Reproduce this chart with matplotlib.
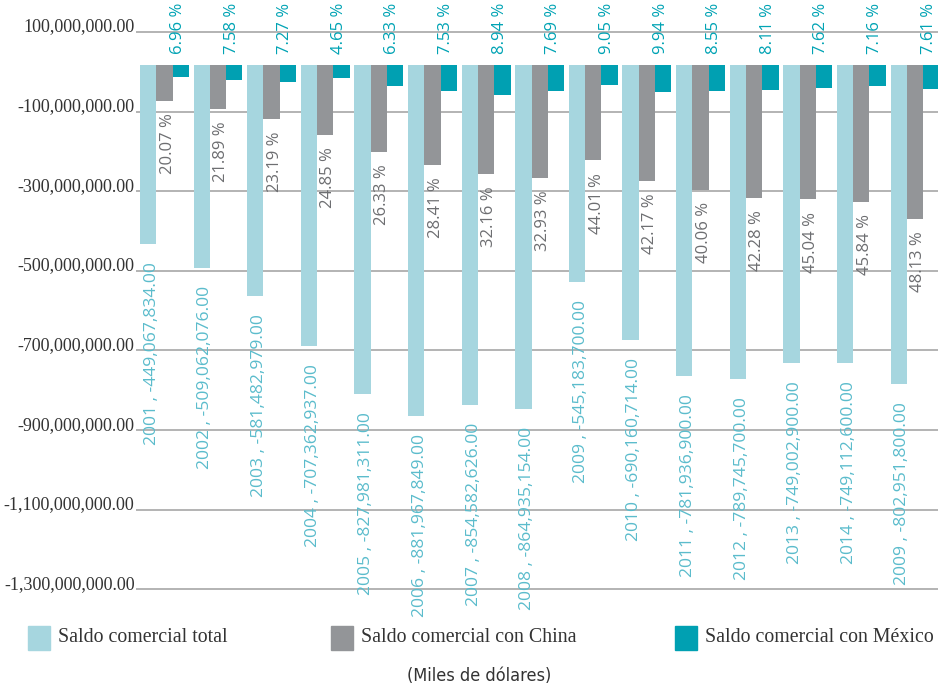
import matplotlib
matplotlib.use("Agg")
import matplotlib.pyplot as plt
import numpy as np
from matplotlib.patches import Rectangle

years = ["2001", "2002", "2003", "2004", "2005", "2006", "2007", "2008",
         "2009", "2010", "2011", "2012", "2013", "2014", "2009"]
total = [-449067834, -509062076, -581482979, -707362937, -827981311,
         -881967849, -854582626, -864935154, -545183700, -690160714,
         -781936900, -789745700, -749002900, -749112600, -802951800]
china_pct = [20.07, 21.89, 23.19, 24.85, 26.33, 28.41, 32.16, 32.93,
             44.01, 42.17, 40.06, 42.28, 45.04, 45.84, 48.13]
mexico_pct = [6.96, 7.58, 7.27, 4.65, 6.33, 7.53, 8.94, 7.69,
              9.05, 9.94, 8.55, 8.11, 7.62, 7.16, 7.61]
yticks = [100e6, -100e6, -300e6, -500e6, -700e6, -900e6, -1100e6, -1300e6]
series_names = ["Saldo comercial total", "Saldo comercial con China",
                "Saldo comercial con México"]
unit_note = "(Miles de dólares)"

china = [t * p / 100 for t, p in zip(total, china_pct)]
mexico = [t * p / 100 for t, p in zip(total, mexico_pct)]

C_TOTAL = "#a6d6df"
C_CHINA = "#939598"
C_MEX = "#00a0b2"
C_TOTAL_TXT = "#5bbccc"
C_CHINA_TXT = "#6d6e71"
C_MEX_TXT = "#00a3b4"

W, H = 938, 689
fig = plt.figure(figsize=(W / 100, H / 100), dpi=100)
ax = fig.add_axes([136 / W, (H - 589.5) / H, 802 / W, 589.5 / H])

x = np.arange(len(years))
bw = 0.304
ax.bar(x - bw, total, bw, color=C_TOTAL, zorder=2, align="center")
ax.bar(x, china, bw, color=C_CHINA, zorder=2, align="center")
ax.bar(x + bw, mexico, bw, color=C_MEX, zorder=2, align="center")

ax.set_xlim(-0.53, 14.43)
ax.set_ylim(-1318e6, 163e6)

# gridlines (drawn slightly below the tick values as in the reference)
for t in yticks:
    ax.axhline(t - 17.5e6, color="#b3b3b3", lw=1.4, zorder=0)

ax.set_yticks(yticks)
ax.set_yticklabels([f"{v:,.2f}" for v in yticks],
                   fontfamily="Liberation Serif", fontsize=13, color="#333333")
ax.tick_params(axis="y", length=0, pad=1)
ax.set_xticks([])
for s in ax.spines.values():
    s.set_visible(False)

for i in range(len(years)):
    ax.annotate(f"{years[i]} , {total[i]:,.2f}", (x[i] - bw + 0.07, total[i]),
                xytext=(0, -13), textcoords="offset points", rotation=90,
                ha="center", va="top", color=C_TOTAL_TXT, zorder=3,
                family="Open Sans", fontsize=12.6)
    ax.annotate(f"{china_pct[i]:.2f} %", (x[i] + 0.06, china[i]),
                xytext=(0, -9), textcoords="offset points", rotation=90,
                ha="center", va="top", color=C_CHINA_TXT, zorder=3,
                family="Open Sans", fontsize=12)
    ax.annotate(f"{mexico_pct[i]:.2f} %", (x[i] + bw - 0.05, 0),
                xytext=(0, 8), textcoords="offset points", rotation=90,
                ha="center", va="bottom", color=C_MEX_TXT, zorder=3,
                annotation_clip=False, family="Open Sans", fontsize=12)

# legend
leg_items = [(28, C_TOTAL), (331, C_CHINA), (675, C_MEX)]
for (lx, col), name in zip(leg_items, series_names):
    fig.patches.append(Rectangle((lx / W, (H - 650) / H), 22 / W, 24 / H,
                                 transform=fig.transFigure, color=col))
    fig.text((lx + 30) / W, (H - 638) / H, name, ha="left", va="center",
             fontfamily="Liberation Serif", fontsize=14.3, color="#333333")

fig.text(479 / W, (H - 676) / H, unit_note, ha="center", va="center",
         fontfamily="DejaVu Sans", fontstretch="condensed", fontsize=13,
         color="#333333")

fig.savefig("out.png", dpi=100)
